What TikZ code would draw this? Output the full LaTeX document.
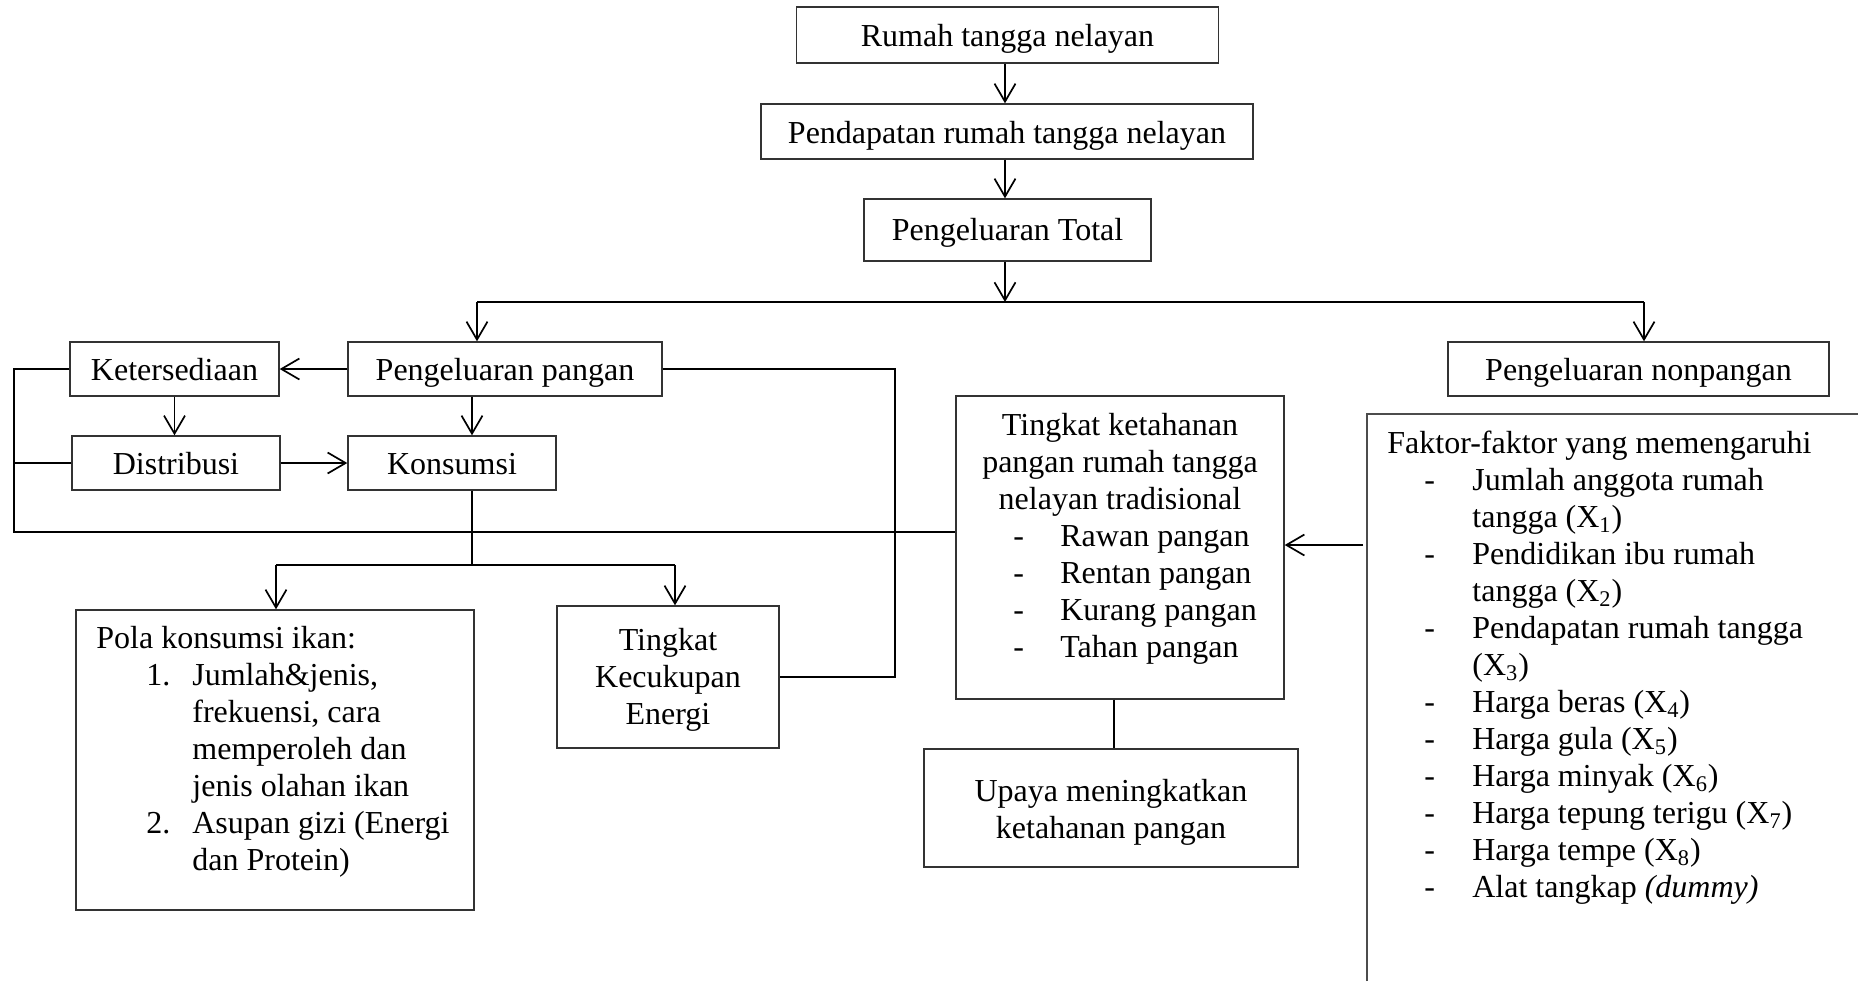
\documentclass[tikz,border=0pt]{standalone}
\usepackage{fontspec}
\setmainfont{Liberation Serif}
\usetikzlibrary{arrows.meta}
\begin{document}
\begin{tikzpicture}[x=0.5pt,y=-0.5pt,
  every node/.style={font=\fontsize{16}{18.5}\selectfont},
  box/.style={draw=black!80, line width=0.7pt, rectangle, inner sep=0pt, align=center},
  one/.style={text height=11.5pt, text depth=0pt},
  arr/.style={line width=0.85pt, -{Straight Barb[length=9pt,width=10.5pt]}},
  ln/.style={line width=0.6pt},
  edge/.style={draw=black!70, line width=0.8pt},
  txt/.style={inner sep=0pt, anchor=base west}]
\useasboundingbox (0,0) rectangle (1858,981);

% boxes
\node[box, one, minimum width=211pt, minimum height=28pt] (rth) at (1007.5,35) {Rumah tangga nelayan};
\node[box, one, minimum width=246pt, minimum height=27.5pt] (pend) at (1007,131.5) {Pendapatan rumah tangga nelayan};
\node[box, text height=10pt, text depth=0pt, minimum width=143.5pt, minimum height=31pt] (tot) at (1007.5,230) {Pengeluaran Total};
\node[box, one, minimum width=104.5pt, minimum height=27pt] (ket) at (174.5,369) {Ketersediaan};
\node[box, one, minimum width=157pt, minimum height=27pt] (pgn) at (505,369) {Pengeluaran pangan};
\node[box, one, minimum width=104pt, minimum height=27pt] (dis) at (176,463) {Distribusi};
\node[box, one, minimum width=104pt, minimum height=27pt] (kon) at (452,463) {Konsumsi};
\node[box, one, minimum width=190.5pt, minimum height=27pt] (npg) at (1638.5,369) {Pengeluaran nonpangan};
\node[box, minimum width=199pt, minimum height=150pt] (pola) at (275,760) {};
\node[box, minimum width=111pt, minimum height=71pt] (tke) at (668,677) {};
\node[box, minimum width=164pt, minimum height=151.5pt] (kth) at (1120,547.5) {};
\node[box, minimum width=187pt, minimum height=59pt] (upy) at (1111,808) {};

% texts inside boxes
\node[inner sep=0pt, anchor=base] (tketxt) at (668,650) {\begin{tabular}[t]{@{}c@{}}Tingkat\\Kecukupan\\Energi\end{tabular}};
\node[inner sep=0pt, anchor=base] (upytxt) at (1111,801) {\begin{tabular}[t]{@{}c@{}}Upaya meningkatkan\\ketahanan pangan\end{tabular}};
\node[txt] (polatxt) at (96,648) {\begin{tabular}[t]{@{}p{25pt}@{}p{23pt}@{}l@{}}
\multicolumn{3}{@{}l@{}}{Pola konsumsi ikan:}\\
 & 1. & Jumlah\&jenis,\\
 & & frekuensi, cara\\
 & & memperoleh dan\\
 & & jenis olahan ikan\\
 & 2. & Asupan gizi (Energi\\
 & & dan Protein)
\end{tabular}};
\node[inner sep=0pt, anchor=base] (kthtxt) at (1120,435) {\begin{tabular}[t]{@{}c@{}}Tingkat ketahanan\\pangan rumah tangga\\nelayan tradisional\end{tabular}};
\node[txt] (kthlst) at (1013,546) {\begin{tabular}[t]{@{}p{23.5pt}@{}l@{}}
-&Rawan pangan\\
-&Rentan pangan\\
-&Kurang pangan\\
-&Tahan pangan
\end{tabular}};
\node[txt] (fkt) at (1387,453) {\begin{tabular}[t]{@{}p{18.5pt}@{}p{24pt}@{}l@{}}
\multicolumn{3}{@{}l@{}}{Faktor-faktor yang memengaruhi}\\
 & - & Jumlah anggota rumah\\
 & & tangga (X\textsubscript{1})\\
 & - & Pendidikan ibu rumah\\
 & & tangga (X\textsubscript{2})\\
 & - & Pendapatan rumah tangga\\
 & & (X\textsubscript{3})\\
 & - & Harga beras (X\textsubscript{4})\\
 & - & Harga gula (X\textsubscript{5})\\
 & - & Harga minyak (X\textsubscript{6})\\
 & - & Harga tepung terigu (X\textsubscript{7})\\
 & - & Harga tempe (X\textsubscript{8})\\
 & - & Alat tangkap \textit{(dummy)}
\end{tabular}};

% coordinates
\coordinate (bm) at (1005,302);
\coordinate (bl) at (477,302);
\coordinate (brr) at (1644,302);
\coordinate (xk) at (472,0);
\coordinate (kb) at (472,565);
\coordinate (kl) at (276,565);
\coordinate (kr) at (675,565);
\coordinate (lt) at (14,369);
\coordinate (lm) at (14,463);
\coordinate (lb) at (14,532);
\coordinate (pr) at (895,369);
\coordinate (prb) at (895,677);
\coordinate (xu) at (1114,0);
\coordinate (fk) at (1363,545);
\coordinate (fb) at (1367,981);
\coordinate (ft) at (1367,414);
\coordinate (fr) at (1858,414);

% connectors
\draw[arr] (rth.south -| bm) -- (pend.north -| bm);
\draw[arr] (pend.south -| bm) -- (tot.north -| bm);
\draw[arr] (tot.south -| bm) -- (bm);
\draw[ln] (bl) -- (brr);
\draw[arr] (bl) -- (bl |- pgn.north);
\draw[arr] (brr) -- (brr |- npg.north);
\draw[arr] (pgn) -- (ket);
\draw[arr] (ket.south) -- (ket.south |- dis.north);
\draw[arr] (dis) -- (kon);
\draw[arr] (pgn.south -| xk) -- (kon.north -| xk);
\draw[ln] (kon.south -| xk) -- (kb);
\draw[ln] (kl) -- (kr);
\draw[arr] (kl) -- (kl |- pola.north);
\draw[arr] (kr) -- (kr |- tke.north);
\draw[ln] (ket.west) -- (lt) -- (lb) -- (kth.west |- lb);
\draw[ln] (dis.west) -- (lm);
\draw[ln] (pgn.east) -- (pr) -- (prb) -- (tke.east |- prb);
\draw[ln] (kth.south -| xu) -- (upy.north -| xu);
\draw[arr] (fk) -- (kth.east |- fk);
\draw[edge] (fb) -- (ft) -- (fr);
\end{tikzpicture}
\end{document}
